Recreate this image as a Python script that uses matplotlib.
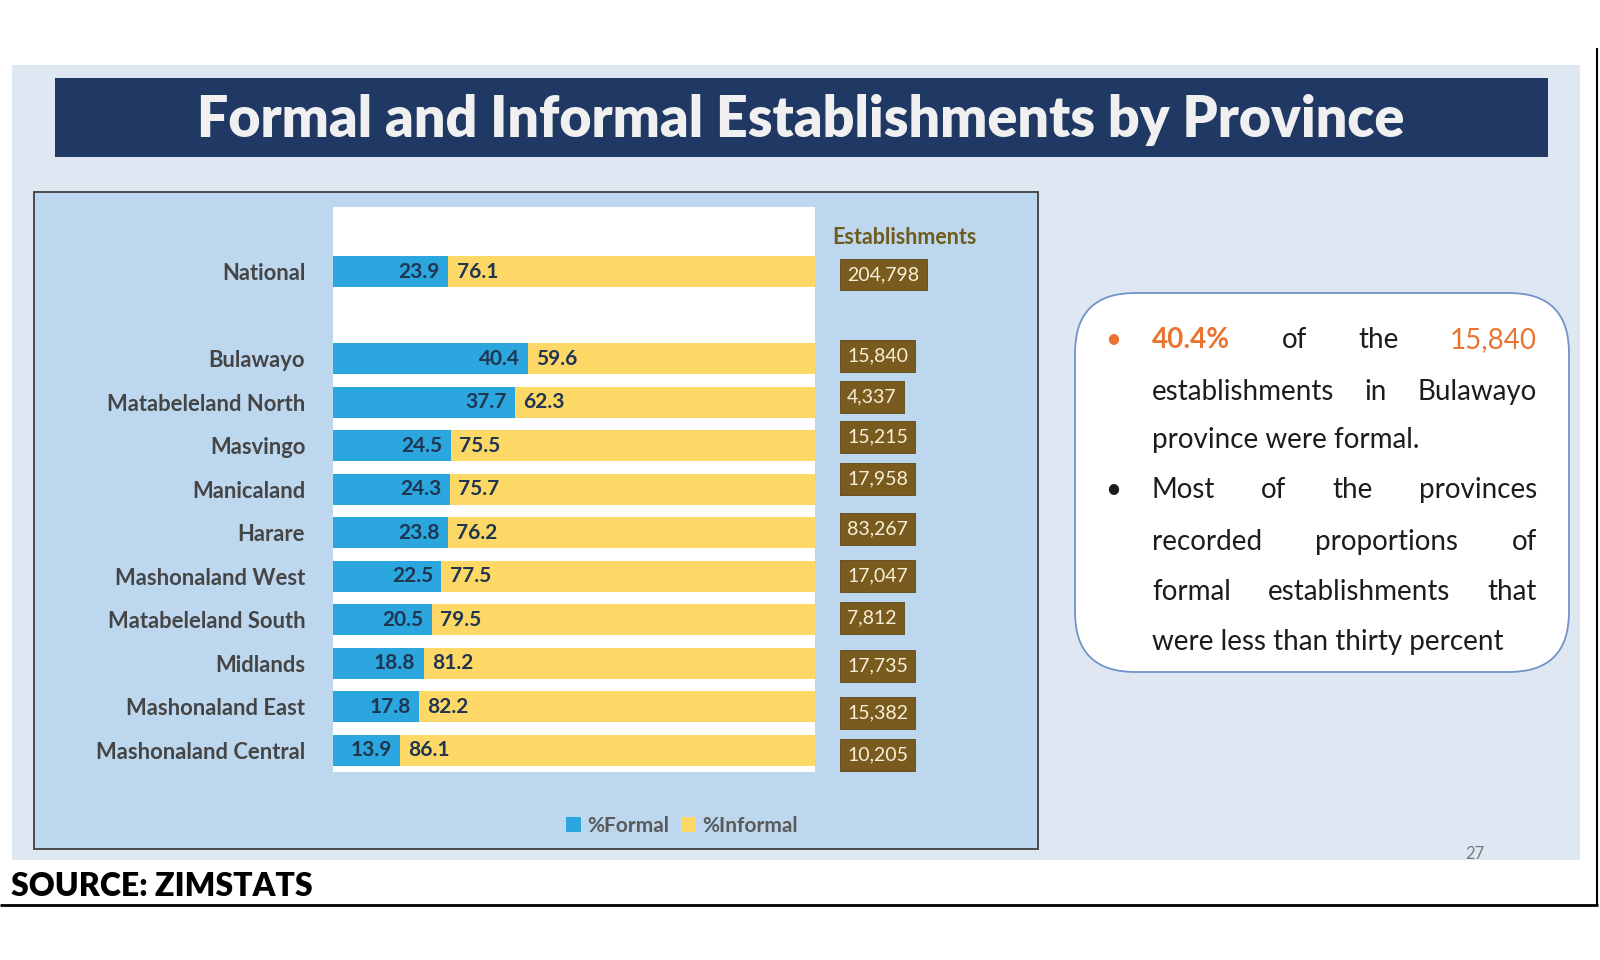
import matplotlib
matplotlib.use("Agg")
import matplotlib.pyplot as plt
from matplotlib.patches import Rectangle, FancyBboxPatch
import matplotlib.transforms as mtransforms

# ---------------- data ----------------
categories = ["National", "Bulawayo", "Matabeleland North", "Masvingo", "Manicaland", "Harare",
              "Mashonaland West", "Matabeleland South", "Midlands", "Mashonaland East",
              "Mashonaland Central"]
pct_formal = [23.9, 40.4, 37.7, 24.5, 24.3, 23.8, 22.5, 20.5, 18.8, 17.8, 13.9]
pct_informal = [76.1, 59.6, 62.3, 75.5, 75.7, 76.2, 77.5, 79.5, 81.2, 82.2, 86.1]
establishments = [204798, 15840, 4337, 15215, 17958, 83267, 17047, 7812, 17735, 15382, 10205]
series_names = ["%Formal", "%Informal"]
title = "Formal and Informal Establishments by Province"
source = "SOURCE: ZIMSTATS"
page_no = "27"

# ---------------- layout / style ----------------
W, H = 1600, 960
BLUE = "#2ba6de"
YELLOW = "#fdd866"
BROWN = "#7a5b1f"
NAVY = "#203864"
LABEL_DARK = "#1f3550"
ORANGE = "#e8742f"
FONT = "Lato"
# small vertical nudges of the hand-placed establishment boxes (pixels, + = down)
box_dy_px = [2.5, -2.7, -5.5, -8.5, -10, -4, -0.5, -2, 2.5, 6, 4.5]

fig = plt.figure(figsize=(W / 100, H / 100), dpi=100)
fig.patch.set_facecolor("white")

# background axes in pixel coordinates (y downward)
bg = fig.add_axes([0, 0, 1, 1], zorder=0)
bg.set_xlim(0, W)
bg.set_ylim(H, 0)
bg.axis("off")

# slide background
bg.add_patch(Rectangle((12, 65), 1568, 795, facecolor="#dfe7f3", edgecolor="none"))
# title banner
bg.add_patch(Rectangle((55, 78), 1493, 79, facecolor=NAVY, edgecolor="none"))
bg.text(801, 137, title, ha="center", va="baseline", color="#f0f0f0",
        fontsize=40, fontweight="heavy", family=FONT)
# chart frame
bg.add_patch(Rectangle((34, 192), 1004, 657, facecolor="#bdd7ee", edgecolor="#4a4a4a", lw=1.4))
# establishments header
bg.text(832, 237, "Establishments", ha="left", va="center", color="#6e5c1c",
        fontsize=15.5, fontweight="bold", family=FONT)
# page number
bg.text(1475, 854, page_no, ha="center", va="center", color="#7a7a7a", fontsize=12, family=FONT)
# source
bg.text(11, 887, source, ha="left", va="center", color="black", fontsize=23,
        fontweight="heavy", family=FONT)
# black frame lines
bg.plot([0, 1598], [905, 905], color="black", lw=2.0, solid_capstyle="butt")
bg.plot([1597, 1597], [48, 905], color="black", lw=1.5, solid_capstyle="butt")

# rounded text box
bg.add_patch(FancyBboxPatch((1075, 293), 494, 379,
                            boxstyle="round,pad=0,rounding_size=60",
                            facecolor="white", edgecolor="#7094c8", lw=1.3))

# ---------------- bar chart ----------------
left_px, right_px, top_px, bottom_px = 333, 815, 206.7, 772
ax = fig.add_axes([left_px / W, 1 - bottom_px / H, (right_px - left_px) / W,
                   (bottom_px - top_px) / H], zorder=2)
ax.set_facecolor("white")
ypos = [0] + list(range(2, len(categories) + 1))
bh = 0.71
b1 = ax.barh(ypos, pct_formal, height=bh, color=BLUE, label=series_names[0])
b2 = ax.barh(ypos, pct_informal, left=pct_formal, height=bh, color=YELLOW, label=series_names[1])
ax.set_xlim(0, 100)
ax.set_ylim(len(categories) + 0.5, -1.5)
for s in ax.spines.values():
    s.set_visible(False)
ax.set_xticks([])
ax.set_yticks(ypos)
ax.set_yticklabels(categories, fontsize=15.8, fontweight="bold", color="#454545", family=FONT)
ax.tick_params(axis="y", length=0, pad=20)

for y, f, inf in zip(ypos, pct_formal, pct_informal):
    ax.annotate(f"{f:.1f}", (f, y), xytext=(-6, 0), textcoords="offset points",
                ha="right", va="center", fontsize=15, fontweight="bold",
                color=LABEL_DARK, family=FONT)
    ax.annotate(f"{inf:.1f}", (f, y), xytext=(6, 0), textcoords="offset points",
                ha="left", va="center", fontsize=15, fontweight="bold",
                color=LABEL_DARK, family=FONT)

# establishments boxes
blend = mtransforms.blended_transform_factory(ax.transAxes, ax.transData)
box_x = (847 - left_px) / (right_px - left_px)
for y, n, dy in zip(ypos, establishments, box_dy_px):
    tr = mtransforms.offset_copy(blend, fig=fig, x=0, y=-dy, units="dots")
    ax.text(box_x, y, f"{n:,}", transform=tr, ha="left", va="center",
            fontsize=14, color="#f7f0d8", family=FONT, clip_on=False,
            bbox=dict(boxstyle="square,pad=0.38", facecolor=BROWN, edgecolor="#5e4614", lw=0.6))

# legend
leg = fig.legend(handles=[b1, b2], labels=series_names, loc="center",
                 bbox_to_anchor=(682 / W, 1 - 826 / H), ncol=2, frameon=False,
                 handlelength=0.7, handleheight=0.7, handletextpad=0.3, columnspacing=0.6,
                 prop={"family": FONT, "size": 15, "weight": "bold"})
for t in leg.get_texts():
    t.set_color("#5a5a5a")

# ---------------- justified bullet text ----------------
fig.canvas.draw()
renderer = fig.canvas.get_renderer()


def justify(objs, x0, x1):
    widths = [o.get_window_extent(renderer).width for o in objs]
    gap = (x1 - x0 - sum(widths)) / (len(objs) - 1)
    x = x0
    for o, w in zip(objs, widths):
        o.set_x(x)
        x += w + gap


text_left, text_right = 1152, 1537
bullet_x = 1113
FS = 20
DARK = "#1c1c1c"
lines = [
    # (y, [(word, color, weight)], justified, bullet color)
    (340, [("40.4%", ORANGE, "bold"), ("of", DARK, "normal"), ("the", DARK, "normal"),
           ("15,840", ORANGE, "normal")], True, ORANGE),
    (391.7, [("establishments", DARK, "normal"), ("in", DARK, "normal"),
             ("Bulawayo", DARK, "normal")], True, None),
    (440, [("province were formal.", DARK, "normal")], False, None),
    (490, [("Most", DARK, "normal"), ("of", DARK, "normal"), ("the", DARK, "normal"),
           ("provinces", DARK, "normal")], True, DARK),
    (541.7, [("recorded", DARK, "normal"), ("proportions", DARK, "normal"),
             ("of", DARK, "normal")], True, None),
    (591.7, [("formal", DARK, "normal"), ("establishments", DARK, "normal"),
             ("that", DARK, "normal")], True, None),
    (641.7, [("were less than thirty percent", DARK, "normal")], False, None),
]

for y, words, justified, bcol in lines:
    if bcol is not None:
        bg.text(bullet_x, y, "•", ha="center", va="center", color=bcol, fontsize=FS, family=FONT)
    objs = [bg.text(text_left, y, w, ha="left", va="center", color=c, fontweight=wt,
                    fontsize=FS, family=FONT) for w, c, wt in words]
    if justified and len(objs) > 1:
        justify(objs, text_left, text_right)

fig.savefig("out.png", dpi=100, facecolor=fig.get_facecolor())
